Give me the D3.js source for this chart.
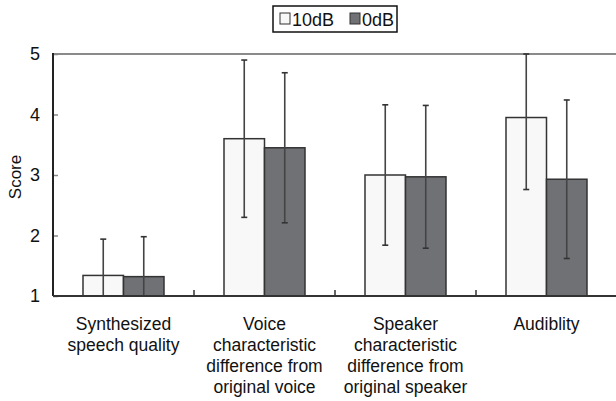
<!DOCTYPE html>
<html><head><meta charset="utf-8">
<script src="https://cdn.jsdelivr.net/npm/d3@7"></script>
<style>body{margin:0;background:#fff}svg{display:block}text{font-family:"Liberation Sans",Arial,sans-serif;fill:#111}</style>
</head><body><svg id="c" width="616" height="401"></svg>
<script>
const categories = [
  ["Synthesized","speech quality"],
  ["Voice","characteristic","difference from","original voice"],
  ["Speaker","characteristic","difference from","original speaker"],
  ["Audiblity"]
];
const seriesNames = ["10dB","0dB"];
const mean10 = [1.34, 3.60, 3.00, 3.95];
const sd10   = [0.60, 1.30, 1.16, 1.19];
const mean0  = [1.32, 3.45, 2.97, 2.93];
const sd0    = [0.66, 1.24, 1.18, 1.31];
const yTicks = [1,2,3,4,5];
const colors = ["#f8f8f8","#707175"];

const svg = d3.select("#c");
const L=53, R=617, T=54, B=296;
const x0 = d3.scaleBand().domain(d3.range(categories.length)).range([L,R]).padding(0);
const x1 = d3.scaleBand().domain(seriesNames).range([30, x0.bandwidth()-30]).padding(0);
const y = d3.scaleLinear().domain([1,5]).range([B,T]);

const data = [];
categories.forEach((c,i)=>{
  data.push({i, s:"10dB", m:mean10[i], sd:sd10[i], col:colors[0]});
  data.push({i, s:"0dB", m:mean0[i], sd:sd0[i], col:colors[1]});
});

// top border
svg.append("line").attr("x1",L).attr("x2",616).attr("y1",y(5)).attr("y2",y(5)).attr("stroke","#8a8a8a").attr("stroke-width",2);

// bars
svg.selectAll("rect.bar").data(data).join("rect").attr("class","bar")
  .attr("x",d=>x0(d.i)+x1(d.s)).attr("width",x1.bandwidth())
  .attr("y",d=>y(d.m)).attr("height",d=>y(1)-y(d.m))
  .attr("fill",d=>d.col).attr("stroke","#333").attr("stroke-width",1.5);

// error bars
const clamp = v=>Math.max(1,Math.min(5,v));
const eb = svg.selectAll("g.eb").data(data).join("g").attr("class","eb")
  .attr("transform",d=>`translate(${x0(d.i)+x1(d.s)+x1.bandwidth()/2},0)`);
eb.append("line").attr("y1",d=>y(clamp(d.m+d.sd))).attr("y2",d=>y(clamp(d.m-d.sd))).attr("stroke","#444").attr("stroke-width",1.6);
eb.append("line").attr("x1",-3).attr("x2",3).attr("y1",d=>y(clamp(d.m+d.sd))).attr("y2",d=>y(clamp(d.m+d.sd))).attr("stroke","#333").attr("stroke-width",1.6);
eb.filter(d=>d.m-d.sd>1).append("line").attr("x1",-3).attr("x2",3).attr("y1",d=>y(d.m-d.sd)).attr("y2",d=>y(d.m-d.sd)).attr("stroke","#333").attr("stroke-width",1.6);

// y axis
const ya = svg.append("g").attr("transform",`translate(${L},0)`)
  .call(d3.axisRight(y).tickValues(yTicks).tickSize(5).tickFormat(""));
ya.select(".domain").remove();
ya.selectAll(".tick line").attr("stroke","#888").attr("stroke-width",1.5);
svg.append("line").attr("x1",L).attr("x2",L).attr("y1",T-1).attr("y2",B).attr("stroke","#222").attr("stroke-width",2);
svg.selectAll("text.yt").data(yTicks).join("text").attr("class","yt")
  .attr("x",40).attr("y",d=>y(d)+6).attr("text-anchor","end").attr("font-size",18).text(d=>d);

// x axis
svg.append("line").attr("x1",L).attr("x2",616).attr("y1",B).attr("y2",B).attr("stroke","#333").attr("stroke-width",2);
svg.selectAll("line.xt").data(d3.range(1,categories.length)).join("line").attr("class","xt")
  .attr("x1",d=>x0(d)).attr("x2",d=>x0(d)).attr("y1",B).attr("y2",B-6).attr("stroke","#333").attr("stroke-width",1.5);
const xl = svg.selectAll("text.xl").data(categories).join("text").attr("class","xl")
  .attr("text-anchor","middle").attr("font-size",17.5)
  .attr("transform",(d,i)=>`translate(${x0(i)+x0.bandwidth()/2},330)`);
xl.selectAll("tspan").data(d=>d).join("tspan").attr("x",0).attr("dy",(d,j)=>j?21:0).text(d=>d);

// y title
svg.append("text").attr("transform",`translate(21,177) rotate(-90)`).attr("text-anchor","middle").attr("font-size",17).text("Score");

// legend
const lg = svg.append("g");
lg.append("rect").attr("x",273).attr("y",6).attr("width",124).attr("height",26).attr("fill","#fff").attr("stroke","#111").attr("stroke-width",1.5);
const li = lg.selectAll("g").data(seriesNames).join("g").attr("transform",(d,i)=>`translate(${i?350:280},0)`);
li.append("rect").attr("x",0).attr("y",13).attr("width",10).attr("height",11).attr("fill",(d,i)=>colors[i]).attr("stroke","#333").attr("stroke-width",1);
li.append("text").attr("x",12).attr("y",26).attr("font-size",18).text(d=>d);
</script></body></html>
